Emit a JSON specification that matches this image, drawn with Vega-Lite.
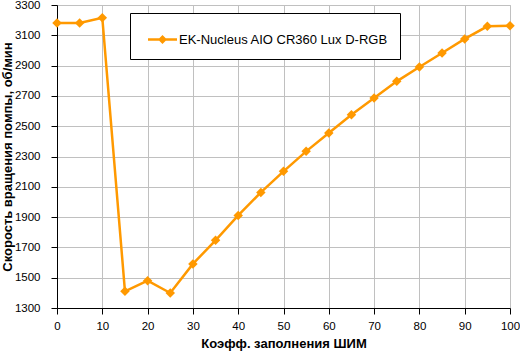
{
  "$schema": "https://vega.github.io/schema/vega-lite/v6.json",
  "width": 453,
  "height": 303,
  "autosize": "none",
  "padding": {"left": 57, "top": 5, "right": 10, "bottom": 47},
  "background": "white",
  "config": {
    "font": "Liberation Sans",
    "view": {"stroke": "#c0c0c0", "strokeWidth": 1},
    "axis": {
      "gridColor": "#c0c0c0",
      "gridWidth": 1,
      "domainColor": "black",
      "tickColor": "black",
      "tickSize": 6,
      "labelFont": "Liberation Sans",
      "labelFontSize": 11.5,
      "labelColor": "black",
      "titleFont": "Liberation Sans",
      "titleFontSize": 13,
      "titleFontWeight": "bold",
      "titleColor": "black"
    }
  },
  "data": {
    "values": [
      {"pwm": 0, "rpm": 3181, "series": "EK-Nucleus AIO CR360 Lux D-RGB"},
      {"pwm": 5, "rpm": 3181, "series": "EK-Nucleus AIO CR360 Lux D-RGB"},
      {"pwm": 10, "rpm": 3216, "series": "EK-Nucleus AIO CR360 Lux D-RGB"},
      {"pwm": 15, "rpm": 1410, "series": "EK-Nucleus AIO CR360 Lux D-RGB"},
      {"pwm": 20, "rpm": 1480, "series": "EK-Nucleus AIO CR360 Lux D-RGB"},
      {"pwm": 25, "rpm": 1399, "series": "EK-Nucleus AIO CR360 Lux D-RGB"},
      {"pwm": 30, "rpm": 1591, "series": "EK-Nucleus AIO CR360 Lux D-RGB"},
      {"pwm": 35, "rpm": 1747, "series": "EK-Nucleus AIO CR360 Lux D-RGB"},
      {"pwm": 40, "rpm": 1911, "series": "EK-Nucleus AIO CR360 Lux D-RGB"},
      {"pwm": 45, "rpm": 2063, "series": "EK-Nucleus AIO CR360 Lux D-RGB"},
      {"pwm": 50, "rpm": 2202, "series": "EK-Nucleus AIO CR360 Lux D-RGB"},
      {"pwm": 55, "rpm": 2334, "series": "EK-Nucleus AIO CR360 Lux D-RGB"},
      {"pwm": 60, "rpm": 2455, "series": "EK-Nucleus AIO CR360 Lux D-RGB"},
      {"pwm": 65, "rpm": 2576, "series": "EK-Nucleus AIO CR360 Lux D-RGB"},
      {"pwm": 70, "rpm": 2686, "series": "EK-Nucleus AIO CR360 Lux D-RGB"},
      {"pwm": 75, "rpm": 2796, "series": "EK-Nucleus AIO CR360 Lux D-RGB"},
      {"pwm": 80, "rpm": 2891, "series": "EK-Nucleus AIO CR360 Lux D-RGB"},
      {"pwm": 85, "rpm": 2983, "series": "EK-Nucleus AIO CR360 Lux D-RGB"},
      {"pwm": 90, "rpm": 3076, "series": "EK-Nucleus AIO CR360 Lux D-RGB"},
      {"pwm": 95, "rpm": 3159, "series": "EK-Nucleus AIO CR360 Lux D-RGB"},
      {"pwm": 100, "rpm": 3163, "series": "EK-Nucleus AIO CR360 Lux D-RGB"}
    ]
  },
  "mark": {
    "type": "line",
    "strokeWidth": 2.5,
    "point": {"shape": "diamond", "size": 90, "filled": true, "opacity": 1}
  },
  "encoding": {
    "x": {
      "field": "pwm",
      "type": "quantitative",
      "scale": {"domain": [0, 100], "nice": false, "zero": false},
      "axis": {
        "title": "Коэфф. заполнения ШИМ",
        "values": [0, 10, 20, 30, 40, 50, 60, 70, 80, 90, 100],
        "format": "d",
        "labelPadding": 6,
        "titlePadding": 6,
        "labelFlush": false
      }
    },
    "y": {
      "field": "rpm",
      "type": "quantitative",
      "scale": {"domain": [1300, 3300], "nice": false, "zero": false},
      "axis": {
        "title": "Скорость вращения помпы, об/мин",
        "values": [1300, 1500, 1700, 1900, 2100, 2300, 2500, 2700, 2900, 3100, 3300],
        "format": "d",
        "labelPadding": 11,
        "titleX": -50,
        "titleY": 151.5,
        "titleAngle": -90,
        "titleAlign": "center",
        "titleBaseline": "middle",
        "labelFlush": false
      }
    },
    "color": {
      "field": "series",
      "type": "nominal",
      "scale": {"range": ["#FF9900"]},
      "legend": {
        "title": null,
        "orient": "none",
        "legendX": 73,
        "legendY": 8,
        "strokeColor": "black",
        "fillColor": "white",
        "padding": 12,
        "symbolType": "M-1,-0.086H1V0.086H-1Z M0,-0.31L0.31,0L0,0.31L-0.31,0Z",
        "symbolSize": 841,
        "symbolFillColor": "#FF9900",
        "symbolStrokeWidth": 0,
        "symbolOffset": 6,
        "labelOffset": 2,
        "labelFont": "Liberation Sans",
        "labelFontSize": 13,
        "labelColor": "black",
        "labelLimit": 400
      }
    }
  }
}
